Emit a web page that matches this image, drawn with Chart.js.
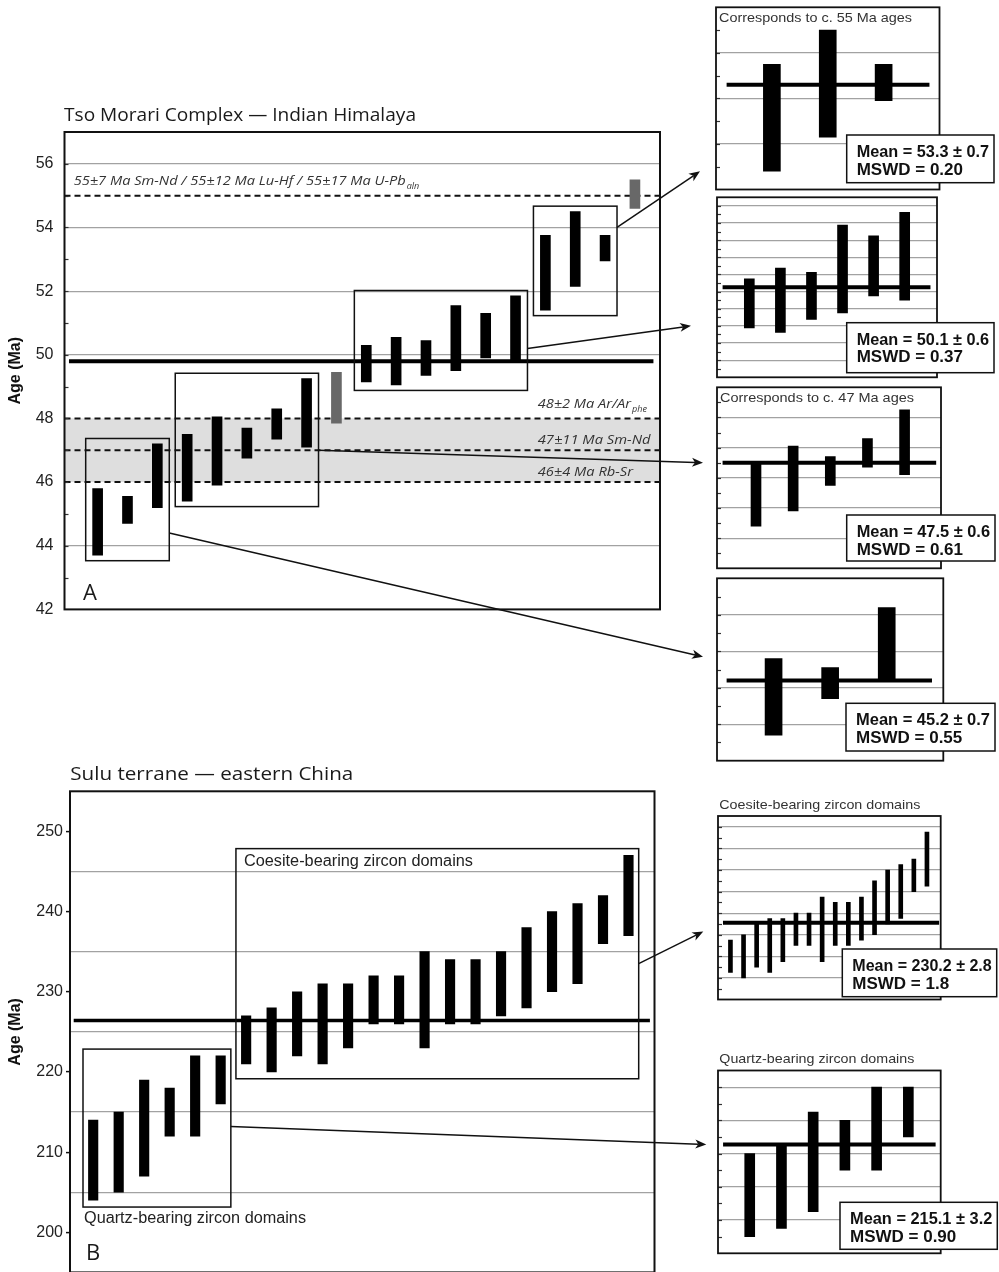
<!DOCTYPE html>
<html lang="en">
<head>
<meta charset="utf-8">
<title>Tso Morari and Sulu ages</title>
<script src="https://cdn.jsdelivr.net/npm/chart.js@4.4.1/dist/chart.umd.min.js"></script>
<style>
  html, body { margin: 0; padding: 0; background: #fff; }
  #page { position: relative; width: 999px; height: 1272px; overflow: hidden; background: #fff; }
  #page canvas { position: absolute; }
</style>
</head>
<body>
<div id="page"></div>
<script>
// ---------------- data ----------------

// Tso Morari: single analyses (Ma); slot = place along the x axis
const tsoSlot = [0, 1, 2, 3, 4, 5, 6, 7, 9, 10, 11, 12, 13, 14, 15, 16, 17];
const tsoLow  = [43.7, 44.7, 45.2, 45.4, 45.9, 46.75, 47.35, 47.1, 49.15, 49.05, 49.35, 49.5, 49.9, 49.8, 51.4, 52.15, 52.95];
const tsoHigh = [45.8, 45.55, 47.2, 47.5, 48.05, 47.7, 48.3, 49.25, 50.3, 50.55, 50.45, 51.55, 51.3, 51.85, 53.75, 54.5, 53.75];
const tsoGroupSize = [3, 5, 6, 3];
const tsoMean = [45.2, 47.5, 50.1, 53.3];
const tsoErr  = [0.7, 0.6, 0.6, 0.7];
const tsoMswd = ['0.55', '0.61', '0.37', '0.20'];
const tsoOverall = 49.8;

// grey bars: ages from other chronometers
const otherSlot = [8, 18];
const otherLow  = [47.85, 54.6];
const otherHigh = [49.45, 55.5];

// literature ages (dashed) and the shaded band
const refAge  = [55, 48, 47, 46];
const refText = ['55±7 Ma Sm-Nd / 55±12 Ma Lu-Hf / 55±17 Ma U-Pb', '48±2 Ma Ar/Ar', '47±11 Ma Sm-Nd', '46±4 Ma Rb-Sr'];
const refSub  = ['aln', 'phe', '', ''];
const tsoBand = [46, 48];

// zoom panels, one per box (young to old)
const tsoPanelMin  = [43, 44, 48, 51];
const tsoPanelMax  = [48, 50, 52.2, 55];
const tsoPanelStep = [0.5, 0.5, 0.2, 0.5];
const tsoPanelTitle = ['', 'Corresponds to c. 47 Ma ages', '', 'Corresponds to c. 55 Ma ages'];
const tsoArrowFrom = [44.4, 47.0, 50.2, 54.0];
const tsoArrowTo   = [45.85, 47.5, 49.2, 51.4];

// Sulu terrane: zircon domains (Ma)
const suluLow  = [204, 205, 207, 212, 212, 216, 221, 220, 222, 221, 223, 226, 226, 223, 226, 226, 227, 228, 230, 231, 236, 237];
const suluHigh = [214, 215, 219, 218, 222, 222, 227, 228, 230, 231, 231, 232, 232, 235, 234, 234, 235, 238, 240, 241, 242, 247];
const suluGroupSize = [6, 16];
const suluGroupName = ['Quartz-bearing zircon domains', 'Coesite-bearing zircon domains'];
const suluMean = [215.1, 230.2];
const suluErr  = [3.2, 2.8];
const suluMswd = ['0.90', '1.8'];
const suluOverall = 226.4;
const suluPanelMin  = [202, 216];
const suluPanelMax  = [224, 250];
const suluPanelStep = [2, 2];
const suluArrowFrom = [213.2, 233.5];
const suluArrowTo   = [215.1, 228.6];

// ---------------- layout (page px) ----------------

const SANS = '"Liberation Sans", Arial, Helvetica, sans-serif';
const HUMAN = '"Open Sans", "Noto Sans", sans-serif';
const GRID = '#a2a2a2';
const NONE = 'rgba(0,0,0,0)';

const mainA = { left: 0, top: 100, w: 680, h: 530, area: { left: 64.5, top: 132, right: 660, bottom: 615 }, x: [-1.11, 18.84], meanX: [-0.96, 18.62] };
const mainB = { left: 0, top: 750, w: 680, h: 535, area: { left: 70, top: 791.3, right: 654.5, bottom: 1273 }, x: [-0.91, 22.02], meanX: [-0.765, 21.84] };

const tsoPanelLayout = [
  { frame: [717, 578.3, 943.3, 760.7], x: [-1, 3], bar: 17, meanX: [-0.83, 2.8], box: [846, 703.3, 995, 751], gap: 14 },
  { frame: [717, 387.3, 941, 568.3], x: [-1.05, 4.98], bar: 10, meanX: [-0.9, 4.85], box: [846.7, 515, 995, 561], gap: 14, titleW: 194, inside: true },
  { frame: [717, 197.3, 937, 377.3], x: [-1.04, 6.04], bar: 10, meanX: [-0.86, 5.83], box: [846.7, 322.7, 994, 372.7], gap: 26 },
  { frame: [716, 7.3, 939.5, 189.5], x: [-1, 3], bar: 17, meanX: [-0.81, 2.82], box: [846.7, 135, 994, 182.7], gap: 16, titleW: 193, inside: true }
];
const suluPanelLayout = [
  { frame: [718.3, 1070.5, 940.7, 1253.3], x: [-1, 6.02], bar: 10, meanX: [-0.84, 5.86], box: [840, 1202.3, 997.3, 1249.3], gap: 12, titleW: 195 },
  { frame: [718.3, 816, 940.7, 999.5], x: [-0.95, 16.05], bar: 4, meanX: [-0.57, 15.93], box: [842.3, 949, 996.7, 996.7], gap: 15, titleW: 201 }
];

// ---------------- helpers ----------------

const page = document.getElementById('page');

function addCanvas(left, top, w, h) {
  const c = document.createElement('canvas');
  c.width = w;
  c.height = h;
  c.style.left = left + 'px';
  c.style.top = top + 'px';
  page.appendChild(c);
  return c;
}

// text placed in page coordinates, optionally squeezed to a width
function pageText(ctx, off, text, x, y, font, color, width) {
  ctx.save();
  ctx.font = font;
  ctx.fillStyle = color || '#000';
  ctx.textBaseline = 'middle';
  ctx.textAlign = 'left';
  const w = ctx.measureText(text).width;
  const sx = width ? width / w : 1;
  ctx.translate(x - off.x, y - off.y);
  ctx.scale(sx, 1);
  ctx.fillText(text, 0, 0);
  ctx.restore();
  return w * sx;
}

function groupBounds(sizes) {
  let s = 0;
  return sizes.map(n => { const r = [s, s + n]; s += n; return r; });
}

function boxOf(slots, low, high, a, b, padX, padY) {
  return {
    x0: slots[a] - padX,
    x1: slots[b - 1] + padX,
    y0: Math.min(...low.slice(a, b)) - padY,
    y1: Math.max(...high.slice(a, b)) + padY
  };
}

function strokeBoxes(chart, boxes) {
  const { ctx, scales: { x, y } } = chart;
  ctx.save();
  ctx.strokeStyle = '#111';
  ctx.lineWidth = 1.5;
  boxes.forEach(b => {
    const l = x.getPixelForValue(b.x0), r = x.getPixelForValue(b.x1);
    const t = y.getPixelForValue(b.y1), btm = y.getPixelForValue(b.y0);
    ctx.strokeRect(l, t, r - l, btm - t);
  });
  ctx.restore();
}

function frame(chart, lw) {
  const { ctx, chartArea: a } = chart;
  ctx.save();
  ctx.strokeStyle = '#111';
  ctx.lineWidth = lw;
  ctx.strokeRect(a.left, a.top, a.right - a.left, a.bottom - a.top);
  ctx.restore();
}

function innerTicks(chart, len) {
  const { ctx, chartArea: a, scales: { y } } = chart;
  ctx.save();
  ctx.strokeStyle = '#333';
  ctx.lineWidth = 1.2;
  y.ticks.forEach(t => {
    if (t.value <= y.min + 1e-6 || t.value >= y.max - 1e-6) return;
    const py = Math.round(y.getPixelForValue(t.value)) + 0.5;
    ctx.beginPath();
    ctx.moveTo(a.left, py);
    ctx.lineTo(a.left + len, py);
    ctx.stroke();
  });
  ctx.restore();
}

function baseOptions(pad, xr, yScale) {
  return {
    responsive: false,
    animation: false,
    devicePixelRatio: 1,
    events: [],
    layout: { padding: pad },
    plugins: { legend: { display: false }, tooltip: { enabled: false } },
    scales: {
      x: { type: 'linear', min: xr[0], max: xr[1], offset: false, display: false },
      y: yScale
    }
  };
}

function mainPadding(m) {
  return { left: 0, top: m.area.top - m.top, right: m.left + m.w - m.area.right, bottom: m.top + m.h - m.area.bottom };
}

function meanLine(xr, value, width) {
  return { type: 'line', data: [{ x: xr[0], y: value }, { x: xr[1], y: value }], borderColor: '#000', borderWidth: width, pointRadius: 0 };
}

function bars(slots, low, high, color, thick) {
  return { data: slots.map((s, i) => ({ x: s, y: [low[i], high[i]] })), backgroundColor: color, barThickness: thick, grouped: false, borderWidth: 0 };
}

// ---------------- Tso Morari main chart ----------------

const offA = { x: mainA.left, y: mainA.top };
const tsoGroups = groupBounds(tsoGroupSize);
const tsoBoxes = tsoGroups.map(([a, b]) => boxOf(tsoSlot, tsoLow, tsoHigh, a, b, 0.4, 0.17));
const refLabelX  = [73.7, 537.7, 537.7, 537.7];
const refLabelDy = [-14, -14, -10, -10];
const refLabelW  = [332, 93.3, 112.8, 95.3];

const tsoExtras = {
  id: 'tsoExtras',
  beforeDraw(chart) {
    const { ctx, chartArea: a, scales: { y } } = chart;
    const t = y.getPixelForValue(tsoBand[1]), b = y.getPixelForValue(tsoBand[0]);
    ctx.save();
    ctx.fillStyle = '#dedede';
    ctx.fillRect(a.left, t, a.right - a.left, b - t);
    ctx.restore();
  },
  beforeDatasetsDraw(chart) {
    const { ctx, chartArea: a, scales: { y } } = chart;
    ctx.save();
    ctx.strokeStyle = '#111';
    ctx.lineWidth = 2;
    ctx.setLineDash([6, 4]);
    refAge.forEach(v => {
      const py = y.getPixelForValue(v);
      ctx.beginPath();
      ctx.moveTo(a.left, py);
      ctx.lineTo(a.right, py);
      ctx.stroke();
    });
    ctx.restore();
  },
  afterDatasetsDraw(chart) {
    strokeBoxes(chart, tsoBoxes);
  },
  afterDraw(chart) {
    const { ctx, scales: { y } } = chart;
    innerTicks(chart, 4);
    frame(chart, 2);
    pageText(ctx, offA, 'Tso Morari Complex — Indian Himalaya', 64, 116, '18px ' + HUMAN, '#1a1a1a', 352);
    pageText(ctx, offA, 'A', 83, 594, '22px ' + HUMAN, '#1a1a1a');
    refAge.forEach((v, i) => {
      const py = y.getPixelForValue(v) + refLabelDy[i] + offA.y;
      const w = pageText(ctx, offA, refText[i], refLabelX[i], py, 'italic 13px ' + HUMAN, '#333', refLabelW[i]);
      if (refSub[i]) pageText(ctx, offA, refSub[i], refLabelX[i] + w + 1, py + 5, 'italic 9px ' + HUMAN, '#333');
    });
  }
};

const chartA = new Chart(addCanvas(mainA.left, mainA.top, mainA.w, mainA.h), {
  type: 'bar',
  data: {
    datasets: [
      meanLine(mainA.meanX, tsoOverall, 4),
      bars(tsoSlot, tsoLow, tsoHigh, '#000', 10),
      bars(otherSlot, otherLow, otherHigh, '#686868', 10)
    ]
  },
  options: baseOptions(mainPadding(mainA), mainA.x, {
    min: 42,
    max: 57,
    afterFit: s => { s.width = mainA.area.left - mainA.left; },
    ticks: {
      stepSize: 1,
      autoSkip: false,
      padding: 11,
      color: '#222',
      font: { family: SANS, size: 16 },
      callback: v => (v % 2 === 0 ? v : '')
    },
    grid: {
      drawTicks: false,
      lineWidth: 1.2,
      color: c => (c.tick && c.tick.value % 2 === 0 && ![42, 46, 48].includes(c.tick.value) ? GRID : NONE)
    },
    border: { display: false },
    title: { display: true, text: 'Age (Ma)', color: '#111', font: { family: SANS, size: 16, weight: 'bold' }, padding: { top: 6, bottom: 0 } }
  }),
  plugins: [tsoExtras]
});

// ---------------- Sulu main chart ----------------

const offB = { x: mainB.left, y: mainB.top };
const suluSlot = suluLow.map((v, i) => i);
const suluGroups = groupBounds(suluGroupSize);
const suluBoxes = suluGroups.map(([a, b]) => boxOf(suluSlot, suluLow, suluHigh, a, b, 0.4, 0.85));

const suluExtras = {
  id: 'suluExtras',
  afterDatasetsDraw(chart) {
    strokeBoxes(chart, suluBoxes);
  },
  afterDraw(chart) {
    const { ctx, scales: { x, y } } = chart;
    frame(chart, 2);
    pageText(ctx, offB, 'Sulu terrane — eastern China', 70.3, 775, '18px ' + HUMAN, '#1a1a1a', 283);
    pageText(ctx, offB, 'B', 86, 1254, '22px ' + HUMAN, '#1a1a1a');
    const q = suluBoxes[0], c = suluBoxes[1];
    pageText(ctx, offB, suluGroupName[0], x.getPixelForValue(q.x0) + 1 + offB.x, y.getPixelForValue(q.y0) + 12 + offB.y, '16px ' + SANS, '#222', 222);
    pageText(ctx, offB, suluGroupName[1], x.getPixelForValue(c.x0) + 8 + offB.x, y.getPixelForValue(c.y1) + 13 + offB.y, '16px ' + SANS, '#222', 229);
  }
};

const chartB = new Chart(addCanvas(mainB.left, mainB.top, mainB.w, mainB.h), {
  type: 'bar',
  data: {
    datasets: [
      meanLine(mainB.meanX, suluOverall, 3.5),
      bars(suluSlot, suluLow, suluHigh, '#000', 9.5)
    ]
  },
  options: baseOptions(mainPadding(mainB), mainB.x, {
    min: 195,
    max: 255,
    afterFit: s => { s.width = mainB.area.left - mainB.left; },
    ticks: {
      stepSize: 5,
      autoSkip: false,
      padding: 3,
      color: '#222',
      font: { family: SANS, size: 16 },
      callback: v => (v % 10 === 0 ? v : '')
    },
    grid: {
      drawTicks: true,
      tickLength: 4,
      tickWidth: 1.5,
      lineWidth: 1.2,
      tickColor: c => (c.tick && c.tick.value % 10 === 0 ? '#111' : NONE),
      color: c => (c.tick && c.tick.value % 10 === 5 && c.tick.value < 255 ? GRID : NONE)
    },
    border: { display: false },
    title: { display: true, text: 'Age (Ma)', color: '#111', font: { family: SANS, size: 16, weight: 'bold' }, padding: { top: 6, bottom: 0 } }
  }),
  plugins: [suluExtras]
});

// ---------------- zoom panels ----------------

function makePanel(p) {
  const padL = 12, padT = 28, padB = 12;
  const left = Math.round(p.frame[0]) - padL;
  const top = Math.round(p.frame[1]) - padT;
  const w = 999 - left;
  const h = Math.round(p.frame[3] - top) + padB;
  const off = { x: left, y: top };
  const isMajor = v => {
    const k = Math.round((v - p.min) / p.step);
    return k % 2 === 0 && Math.abs(v - (p.min + k * p.step)) < 1e-6 && v > p.min + 1e-6 && v < p.max - 1e-6;
  };
  const extras = {
    id: 'panelExtras',
    afterDraw(chart) {
      const { ctx } = chart;
      innerTicks(chart, 4);
      frame(chart, 1.8);
      if (p.title) {
        const ty = p.inside ? p.frame[1] + 11.5 : p.frame[1] - 11;
        pageText(ctx, off, p.title, p.frame[0] + (p.inside ? 3 : 1), ty, '13px ' + SANS, '#333', p.titleW);
      }
      const [bl, bt, br, bb] = p.box;
      ctx.save();
      ctx.fillStyle = '#fff';
      ctx.fillRect(bl - off.x, bt - off.y, br - bl, bb - bt);
      ctx.strokeStyle = '#111';
      ctx.lineWidth = 1.5;
      ctx.strokeRect(bl - off.x, bt - off.y, br - bl, bb - bt);
      ctx.restore();
      pageText(ctx, off, 'Mean = ' + p.mean.toFixed(1) + ' ± ' + p.err.toFixed(1), bl + 10, bt + 17.5, 'bold 17px ' + SANS, '#111', (br - bl) - 15);
      pageText(ctx, off, 'MSWD = ' + p.mswd, bl + 10, bt + 35, 'bold 17px ' + SANS, '#111', null);
    }
  };
  const chart = new Chart(addCanvas(left, top, w, h), {
    type: 'bar',
    data: {
      datasets: [
        meanLine(p.meanX, p.mean, 4),
        bars(p.low.map((v, i) => i), p.low, p.high, '#000', p.bar)
      ]
    },
    options: baseOptions({ left: padL, top: p.frame[1] - top, right: left + w - p.frame[2], bottom: top + h - p.frame[3] }, p.x, {
      min: p.min,
      max: p.max,
      afterFit: s => { s.width = 0; },
      ticks: { display: false, stepSize: p.step, autoSkip: false },
      grid: { drawTicks: false, lineWidth: 1.2, color: c => (c.tick && isMajor(c.tick.value) ? GRID : NONE) },
      border: { display: false }
    }),
    plugins: [extras]
  });
  return { chart, off };
}

const tsoPanels = tsoGroups.map(([a, b], g) => makePanel(Object.assign({}, tsoPanelLayout[g], {
  low: tsoLow.slice(a, b), high: tsoHigh.slice(a, b),
  mean: tsoMean[g], err: tsoErr[g], mswd: tsoMswd[g],
  min: tsoPanelMin[g], max: tsoPanelMax[g], step: tsoPanelStep[g],
  title: tsoPanelTitle[g]
})));

const suluPanels = suluGroups.map(([a, b], g) => makePanel(Object.assign({}, suluPanelLayout[g], {
  low: suluLow.slice(a, b), high: suluHigh.slice(a, b),
  mean: suluMean[g], err: suluErr[g], mswd: suluMswd[g],
  min: suluPanelMin[g], max: suluPanelMax[g], step: suluPanelStep[g],
  title: suluGroupName[g]
})));

// ---------------- connector arrows ----------------

const overlay = addCanvas(0, 0, 999, 1272);
overlay.style.zIndex = 5;
const octx = overlay.getContext('2d');

function arrow(ctx, x0, y0, x1, y1) {
  const a = Math.atan2(y1 - y0, x1 - x0);
  const cos = Math.cos(a), sin = Math.sin(a);
  const L = 11, W = 4.5, notch = 3;
  const bx = x1 - L * cos, by = y1 - L * sin;
  ctx.beginPath();
  ctx.moveTo(x0, y0);
  ctx.lineTo(bx + notch * cos, by + notch * sin);
  ctx.stroke();
  ctx.beginPath();
  ctx.moveTo(x1, y1);
  ctx.lineTo(bx - W * sin, by + W * cos);
  ctx.lineTo(bx + notch * cos, by + notch * sin);
  ctx.lineTo(bx + W * sin, by - W * cos);
  ctx.closePath();
  ctx.fill();
}

function connect(main, off, box, fromAge, panel, layout, toAge) {
  const x0 = main.scales.x.getPixelForValue(box.x1) + off.x;
  const y0 = main.scales.y.getPixelForValue(fromAge) + off.y;
  const x1 = layout.frame[0] - layout.gap;
  const y1 = panel.chart.scales.y.getPixelForValue(toAge) + panel.off.y;
  arrow(octx, x0, y0, x1, y1);
}

octx.strokeStyle = '#111';
octx.fillStyle = '#111';
octx.lineWidth = 1.5;
tsoBoxes.forEach((b, g) => connect(chartA, offA, b, tsoArrowFrom[g], tsoPanels[g], tsoPanelLayout[g], tsoArrowTo[g]));
suluBoxes.forEach((b, g) => connect(chartB, offB, b, suluArrowFrom[g], suluPanels[g], suluPanelLayout[g], suluArrowTo[g]));
</script>
</body>
</html>
